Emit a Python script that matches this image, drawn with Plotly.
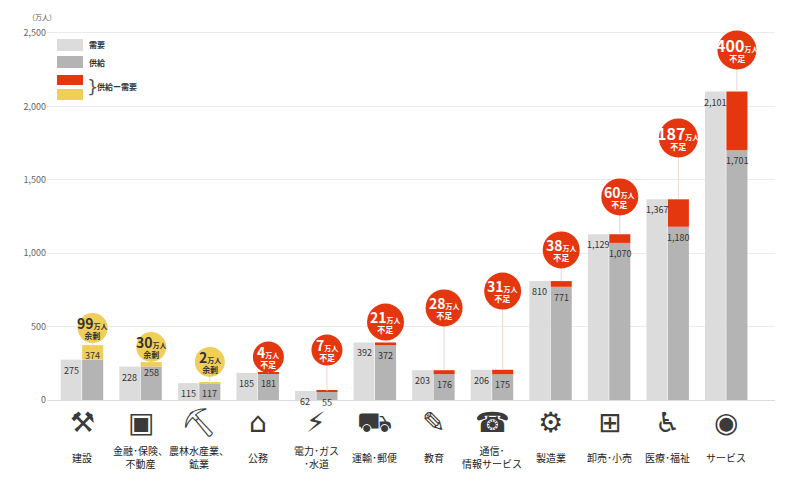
import plotly.graph_objects as go

# 産業別の需要と供給 (万人)
categories = ["建設", "金融･保険、<br>不動産", "農林水産業、<br>鉱業", "公務", "電力･ガス<br>･水道",
              "運輸･郵便", "教育", "通信･<br>情報サービス", "製造業", "卸売･小売", "医療･福祉", "サービス"]
demand = [275, 228, 115, 185, 62, 392, 203, 206, 810, 1129, 1367, 2101]
supply = [374, 258, 117, 181, 55, 372, 176, 175, 771, 1070, 1180, 1701]
gap = [99, 30, 2, 4, 7, 21, 28, 31, 38, 60, 187, 400]
icons = ["⚒", "▣", "⛏", "⌂", "⚡", "⛟", "✎", "☎", "⚙", "⊞", "♿", "◉"]

# bubble heights (axis units), layout only
bubble_y = [490, 361, 259, 293, 341, 531, 627, 742, 1022, 1383, 1785, 2384]

LIGHT = "#dcdcdc"
GRAY = "#b4b4b4"
RED = "#e5370f"
YELLOW = "#efcf5a"
FONT = "Noto Sans CJK JP"

n = len(categories)
xs = list(range(n))
lo = [min(d, s) for d, s in zip(demand, supply)]
diff = [abs(d - s) for d, s in zip(demand, supply)]
short = [d > s for d, s in zip(demand, supply)]
sx = [i + 0.18 for i in xs]

fig = go.Figure()

fig.add_trace(go.Bar(x=xs, y=demand, offset=-0.365, width=0.355, marker=dict(color=LIGHT, line_width=0),
                     hoverinfo="skip", showlegend=False))
fig.add_trace(go.Bar(x=xs, y=lo, offset=0.0, width=0.36, marker=dict(color=GRAY, line_width=0),
                     hoverinfo="skip", showlegend=False))
fig.add_trace(go.Bar(x=xs, y=diff, base=lo, offset=0.0, width=0.36,
                     marker=dict(color=[RED if s else YELLOW for s in short], line_width=0),
                     hoverinfo="skip", showlegend=False))

# connectors bubble -> bar
lx, ly = [], []
for i in xs:
    lx += [sx[i], sx[i], None]
    ly += [max(demand[i], supply[i]), bubble_y[i], None]
fig.add_trace(go.Scatter(x=lx, y=ly, mode="lines", line=dict(color="#ead7d3", width=1),
                         hoverinfo="skip", showlegend=False, cliponaxis=False))

sizes = []
for i in xs:
    if not short[i]:
        sizes.append(30)
    elif gap[i] < 10:
        sizes.append(31)
    else:
        sizes.append(37 if gap[i] < 100 else 39)
fig.add_trace(go.Scatter(x=sx, y=bubble_y, mode="markers",
                         marker=dict(size=sizes, color=[RED if s else YELLOW for s in short],
                                     opacity=1, line_width=0),
                         hoverinfo="skip", showlegend=False, cliponaxis=False))

ann = []
for i in xs:
    tc = "white" if short[i] else "#333"
    big = 14 if gap[i] < 100 else 16
    word = "不足" if short[i] else "余剰"
    ann.append(dict(x=sx[i], y=bubble_y[i], xref="x", yref="y", yshift=1, showarrow=False,
                    text=(f"<b><span style='font-size:{big}px'>{gap[i]}</span>"
                          f"<span style='font-size:7px'>万人</span></b><br><b>{word}</b>"),
                    font=dict(family=FONT, size=8, color=tc)))
    # value labels
    ann.append(dict(x=i - 0.1875, y=demand[i], xref="x", yref="y", yanchor="top", yshift=-2,
                    showarrow=False, text=f"{demand[i]:,}", font=dict(family=FONT, size=9, color="#333")))
    ann.append(dict(x=sx[i], y=supply[i], xref="x", yref="y", yanchor="top", yshift=-2,
                    showarrow=False, text=f"{supply[i]:,}", font=dict(family=FONT, size=9, color="#333")))
    # icons and category names
    ann.append(dict(x=i, y=0, xref="x", yref="paper", yshift=-22, yanchor="middle", showarrow=False,
                    text=icons[i], font=dict(family="DejaVu Sans", size=28, color="#3a3a3a")))
    ann.append(dict(x=i, y=0, xref="x", yref="paper", yshift=-57, yanchor="middle", showarrow=False,
                    text=categories[i], font=dict(family=FONT, size=10, color="#222")))

# page offset of the body (8px) is compensated; coordinates below are in screenshot pixels
OFF = 8
L, R, T, B = 47, 775, 24, 400
W, H = 784, 464


def px(x):
    return (x - L) / (R - L)


def py(y):
    return (B - y) / (B - T)


shapes = []
for (y0, y1, c) in [(39, 51, LIGHT), (56, 68, GRAY), (75, 85, RED), (89, 100, YELLOW)]:
    shapes.append(dict(type="rect", xref="paper", yref="paper", x0=px(57), x1=px(83), y0=py(y1), y1=py(y0),
                       fillcolor=c, line_width=0, layer="above"))
for t, y in [("需要", 45), ("供給", 62)]:
    ann.append(dict(x=px(87), y=py(y), xref="paper", yref="paper", xanchor="left", yanchor="middle",
                    showarrow=False, text=f"<b>{t}</b>", font=dict(family=FONT, size=8, color="#333")))
ann.append(dict(x=px(85), y=py(87), xref="paper", yref="paper", xanchor="left", yanchor="middle",
                showarrow=False, text="}", font=dict(family="DejaVu Sans", size=18, color="#555")))
ann.append(dict(x=px(95), y=py(87), xref="paper", yref="paper", xanchor="left", yanchor="middle",
                showarrow=False, text="<b>供給ー需要</b>", font=dict(family=FONT, size=8, color="#333")))
ann.append(dict(x=px(26), y=py(17), xref="paper", yref="paper", xanchor="left", yanchor="middle",
                showarrow=False, text="（万人）", font=dict(family=FONT, size=7, color="#555")))

fig.update_layout(
    width=W, height=H,
    margin=dict(l=L - OFF, r=W - (R - OFF), t=T - OFF, b=H - (B - OFF)),
    plot_bgcolor="white", paper_bgcolor="white",
    barmode="overlay",
    xaxis=dict(range=[-0.6, 11.83], showticklabels=False, showgrid=False, zeroline=False, fixedrange=True),
    yaxis=dict(range=[0, 2561], tickvals=[0, 500, 1000, 1500, 2000, 2500],
               ticktext=["0", "500", "1,000", "1,500", "2,000", "2,500"],
               gridcolor="#ebebeb", gridwidth=1, zeroline=True, zerolinecolor="#dcdcdc", zerolinewidth=1,
               tickfont=dict(family=FONT, size=9, color="#666"), fixedrange=True),
    annotations=ann, shapes=shapes,
    font=dict(family=FONT),
)

fig.write_html("out.html")
